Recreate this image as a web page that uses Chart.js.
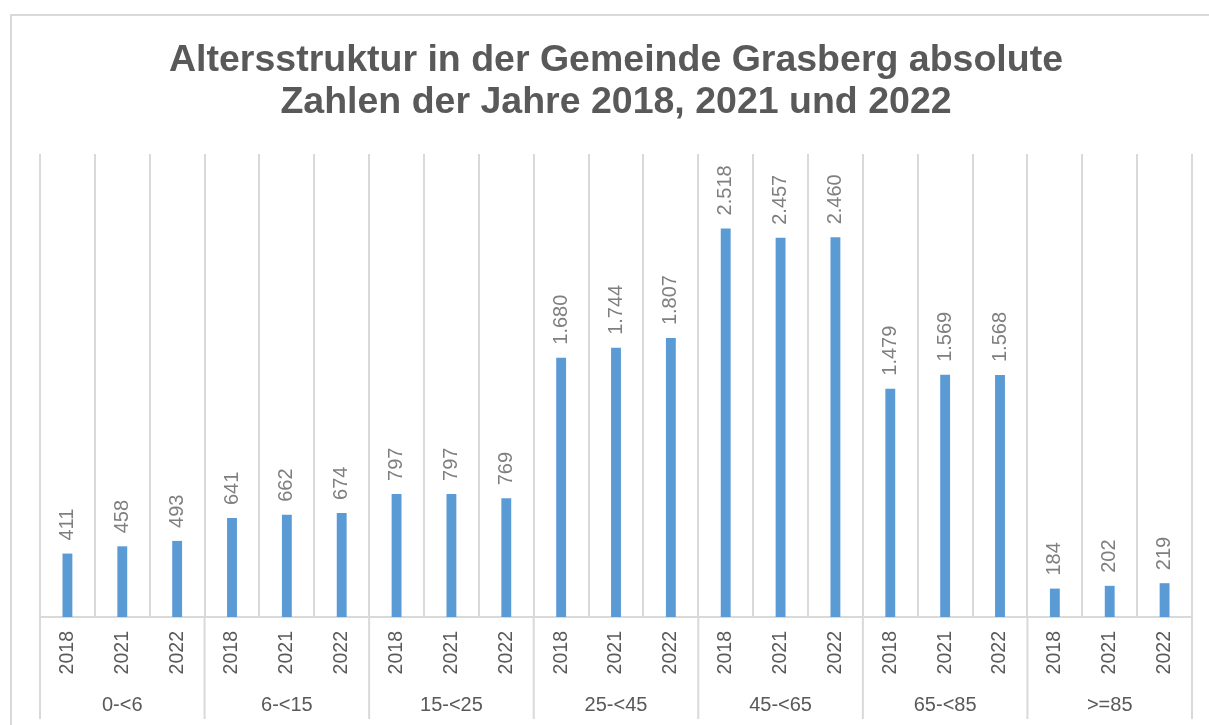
<!DOCTYPE html>
<html>
<head>
<meta charset="utf-8">
<script src="https://cdn.jsdelivr.net/npm/chart.js@4/dist/chart.umd.min.js"></script>
<style>
html,body{margin:0;padding:0;background:#fff;}
canvas{display:block;}
</style>
</head>
<body>
<canvas id="c" width="1209" height="725"></canvas>
<script>
const groups = ["0-<6", "6-<15", "15-<25", "25-<45", "45-<65", "65-<85", ">=85"];
const years = ["2018", "2021", "2022"];
const values = [411, 458, 493, 641, 662, 674, 797, 797, 769, 1680, 1744, 1807, 2518, 2457, 2460, 1479, 1569, 1568, 184, 202, 219];
const titleLines = ["Altersstruktur in der Gemeinde Grasberg absolute", "Zahlen der Jahre 2018, 2021 und 2022"];

const labels = [];
groups.forEach(() => years.forEach(y => labels.push(y)));

function fmt(v) {
  return String(v).replace(/\B(?=(\d{3})+(?!\d))/g, ".");
}

const FONT = "'Liberation Sans', Arial, sans-serif";
const GRID = "#d9d9d9";

const framePlugin = {
  id: "frame",
  beforeDraw(chart) {
    const ctx = chart.ctx;
    ctx.save();
    ctx.fillStyle = "#fff";
    ctx.fillRect(0, 0, chart.width, chart.height);
    ctx.strokeStyle = GRID;
    ctx.lineWidth = 2;
    ctx.strokeRect(11, 15, chart.width + 50, chart.height + 50);
    ctx.restore();
  }
};

const valueLabels = {
  id: "valueLabels",
  afterDatasetsDraw(chart) {
    const ctx = chart.ctx;
    const meta = chart.getDatasetMeta(0);
    ctx.save();
    ctx.fillStyle = "#7f7f7f";
    ctx.font = "20px " + FONT;
    ctx.textAlign = "left";
    ctx.textBaseline = "middle";
    meta.data.forEach((bar, i) => {
      ctx.save();
      ctx.translate(bar.x, bar.y - 13);
      ctx.rotate(-Math.PI / 2);
      ctx.fillText(fmt(chart.data.datasets[0].data[i]), 0, 0);
      ctx.restore();
    });
    ctx.restore();
  }
};

const groupAxis = {
  id: "groupAxis",
  afterDraw(chart) {
    const ctx = chart.ctx;
    const xs = chart.scales.x;
    const area = chart.chartArea;
    const half = (xs.getPixelForValue(1) - xs.getPixelForValue(0)) / 2;
    ctx.save();
    ctx.strokeStyle = GRID;
    ctx.lineWidth = 2;
    ctx.fillStyle = "#595959";
    ctx.font = "20px " + FONT;
    ctx.textAlign = "center";
    ctx.textBaseline = "middle";
    groups.forEach((g, gi) => {
      const first = gi * years.length;
      const last = first + years.length - 1;
      const x0 = xs.getPixelForValue(first) - half;
      const x1 = xs.getPixelForValue(last) + half;
      ctx.beginPath();
      ctx.moveTo(x0, area.bottom);
      ctx.lineTo(x0, 719);
      if (gi === groups.length - 1) {
        ctx.moveTo(x1, area.bottom);
        ctx.lineTo(x1, 719);
      }
      ctx.stroke();
      ctx.fillText(g, (x0 + x1) / 2, 705);
    });
    ctx.restore();
  }
};

new Chart(document.getElementById("c"), {
  type: "bar",
  data: {
    labels: labels,
    datasets: [{
      data: values,
      backgroundColor: "#5b9bd5",
      barPercentage: 0.18,
      categoryPercentage: 1.0
    }]
  },
  options: {
    responsive: false,
    animation: false,
    devicePixelRatio: 1,
    layout: { padding: { left: 40, right: 17, top: 0, bottom: 0 } },
    plugins: {
      legend: { display: false },
      tooltip: { enabled: false },
      title: {
        display: true,
        text: titleLines,
        color: "#595959",
        font: { family: FONT, size: 37.5, weight: "bold", lineHeight: 1.12 },
        padding: { top: 40, bottom: 30 }
      }
    },
    scales: {
      x: {
        grid: { offset: true, color: GRID, lineWidth: 2, drawTicks: false },
        border: { display: true, color: GRID, width: 2 },
        ticks: {
          color: "#595959",
          font: { family: FONT, size: 19.5 },
          minRotation: 90,
          maxRotation: 90,
          padding: 14,
          autoSkip: false
        },
        afterFit(scale) { scale.height = 108; }
      },
      y: {
        display: false,
        min: 0,
        max: 3000
      }
    }
  },
  plugins: [framePlugin, valueLabels, groupAxis]
});
</script>
</body>
</html>
